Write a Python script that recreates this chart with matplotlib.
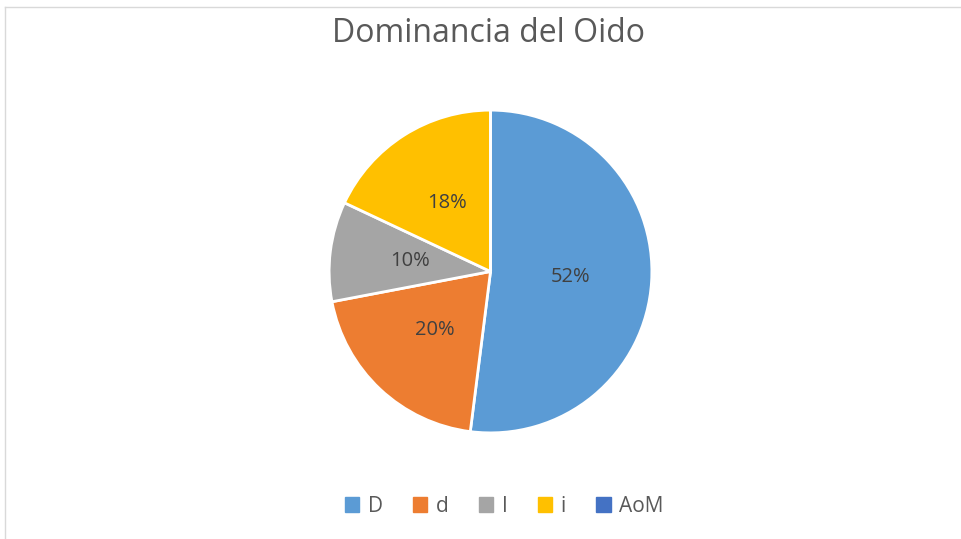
import matplotlib.pyplot as plt
from matplotlib.lines import Line2D

plt.rcParams['font.family'] = ['Open Sans', 'DejaVu Sans']

categories = ['D', 'd', 'I', 'i', 'AoM']
values = [52, 20, 10, 18, 0]
colors = ['#5B9BD5', '#ED7D31', '#A5A5A5', '#FFC000', '#4472C4']

fig = plt.figure(figsize=(9.62, 5.39), dpi=100)

# faint frame lines, like the cropped chart border
fig.add_artist(Line2D([4.5 / 962, 4.5 / 962], [0, 1 - 7 / 539], color='#D9D9D9', lw=1))
fig.add_artist(Line2D([4.5 / 962, 1], [1 - 7 / 539, 1 - 7 / 539], color='#D9D9D9', lw=1))

cx, cy, r = 490.5, 539 - 271.5, 163
ax = fig.add_axes([(cx - r) / 962, (cy - r) / 539, 2 * r / 962, 2 * r / 539])


def pct(p):
    return f'{p:.0f}%' if p > 0.5 else ''


wedges, texts, autotexts = ax.pie(
    values, colors=colors, startangle=90, counterclock=False,
    autopct=pct, pctdistance=0.5,
    wedgeprops=dict(edgecolor='white', linewidth=2),
    textprops=dict(color='#404040', fontsize=14.5))
ax.set_xlim(-1.01, 1.01)
ax.set_ylim(-1.01, 1.01)

fig.text(489 / 962, 1 - 33 / 539, 'Dominancia del Oido', ha='center', va='center',
         fontsize=23, color='#595959')

handles = [plt.Rectangle((0, 0), 1, 1, color=c) for c in colors]
fig.legend(handles, categories, loc='center', bbox_to_anchor=(504 / 962, 1 - 506 / 539),
           ncol=5, frameon=False, fontsize=15, labelcolor='#595959',
           handlelength=0.7, handleheight=0.7, handletextpad=0.4, columnspacing=1.45)

fig.savefig('out.png', dpi=100)
